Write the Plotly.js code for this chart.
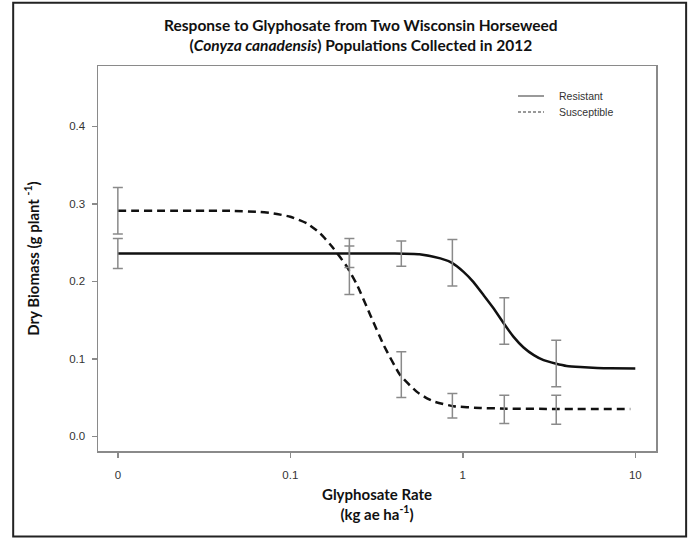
<!DOCTYPE html>
<html>
<head>
<meta charset="utf-8">
<script src="https://cdn.plot.ly/plotly-3.0.1.min.js"></script>
<style>html,body{margin:0;padding:0;background:#fff;}#chart{width:694px;height:539px;}</style>
</head>
<body>
<div id="chart"></div>
<script>
// Glyphosate rates (kg ae/ha); 0.01 stands for the untreated "0" position on the log axis
const doses = [0.01, 0.22, 0.44, 0.87, 1.74, 3.48];

// Observed means and standard errors
const resistantMean = [0.236, 0.2367, 0.2358, 0.224, 0.1488, 0.0939];
const resistantSE   = [0.0194, 0.0187, 0.0162, 0.030, 0.0299, 0.030];
const susceptibleMean = [0.291, 0.2143, 0.0795, 0.0394, 0.0347, 0.0343];
const susceptibleSE   = [0.030, 0.0312, 0.0295, 0.0157, 0.0183, 0.0188];

// Fitted dose-response curves
const resistantCurveX = [0.01, 0.1, 0.4, 0.56, 0.741, 0.865, 1.01, 1.15, 1.32, 1.51, 1.73, 1.97, 2.25, 2.58, 2.94, 3.44, 4.0, 4.8, 6.0, 7.16, 10];
const resistantCurveY = [0.236, 0.236, 0.236, 0.235, 0.2296, 0.2239, 0.2123, 0.1994, 0.1822, 0.165, 0.1456, 0.1283, 0.1146, 0.1047, 0.0982, 0.094, 0.0908, 0.0893, 0.0882, 0.0877, 0.0875];
const susceptibleCurveX = [0.01, 0.045, 0.067, 0.08, 0.1, 0.125, 0.149, 0.178, 0.213, 0.244, 0.291, 0.348, 0.434, 0.542, 0.62, 0.677, 0.885, 1.26, 1.8, 3.52, 9.35];
const susceptibleCurveY = [0.291, 0.291, 0.2895, 0.2877, 0.2834, 0.2748, 0.2619, 0.2425, 0.2188, 0.1951, 0.1563, 0.1176, 0.0788, 0.0573, 0.049, 0.045, 0.0388, 0.0366, 0.0357, 0.0353, 0.0353];

const xTickVals = [0.01, 0.1, 1, 10];
const xTickText = ['0', '0.1', '1', '10'];
const yTickVals = [0, 0.1, 0.2, 0.3, 0.4];
const legendNames = ['Resistant', 'Susceptible'];

const errColor = '#8a8a8a';
const traces = [
  {x: resistantCurveX, y: resistantCurveY, mode: 'lines', name: legendNames[0], showlegend: false,
   line: {color: '#111', width: 2.5, shape: 'spline', smoothing: 0.5}},
  {x: susceptibleCurveX, y: susceptibleCurveY, mode: 'lines', name: legendNames[1], showlegend: false,
   line: {color: '#111', width: 2.5, dash: '8px,5px', shape: 'spline', smoothing: 0.5}},
  {x: doses, y: resistantMean, mode: 'markers', showlegend: false, hoverinfo: 'skip',
   marker: {size: 1, color: 'rgba(0,0,0,0)'},
   error_y: {type: 'data', array: resistantSE, visible: true, color: errColor, thickness: 1.5, width: 5}},
  {x: doses, y: susceptibleMean, mode: 'markers', showlegend: false, hoverinfo: 'skip',
   marker: {size: 1, color: 'rgba(0,0,0,0)'},
   error_y: {type: 'data', array: susceptibleSE, visible: true, color: errColor, thickness: 1.5, width: 5}}
];

const tickFont = {family: 'Liberation Sans, Arial, sans-serif', size: 11.5, color: '#333'};
const legendFont = {family: 'Liberation Sans, Arial, sans-serif', size: 10.5, color: '#333'};
const layout = {
  width: 694, height: 539,
  margin: {l: 98, r: 38, t: 66, b: 88},
  paper_bgcolor: '#fff', plot_bgcolor: '#fff',
  showlegend: false,
  title: {
    text: 'Response to Glyphosate from Two Wisconsin Horseweed<br>(<i>Conyza canadensis</i>) Populations Collected in 2012',
    font: {family: 'Lato, sans-serif', size: 15.5, color: '#111', weight: 'bold'},
    xref: 'container', x: 0.52, xanchor: 'center',
    yref: 'container', y: 0.942, yanchor: 'top'
  },
  xaxis: {
    type: 'log', range: [-2.115, 1.12],
    tickvals: xTickVals, ticktext: xTickText,
    showgrid: false, zeroline: false,
    showline: true, mirror: true, linecolor: '#8a8a8a', linewidth: 1.5,
    ticks: 'outside', ticklen: 5, tickcolor: '#8a8a8a', tickwidth: 1.5,
    ticklabelstandoff: 8,
    tickfont: tickFont,
    title: {text: '<b>Glyphosate Rate</b><br><b>(kg ae ha<sup>-1</sup>)</b>',
            font: {family: 'Lato, sans-serif', size: 15, color: '#111'}, standoff: 9}
  },
  yaxis: {
    range: [-0.019, 0.478],
    tickvals: yTickVals, tickformat: '.1f',
    showgrid: false, zeroline: false,
    showline: true, mirror: true, linecolor: '#8a8a8a', linewidth: 1.5,
    ticks: 'outside', ticklen: 5, tickcolor: '#8a8a8a', tickwidth: 1.5,
    ticklabelstandoff: 4,
    tickfont: tickFont,
    title: {text: '<b>Dry Biomass (g plant <sup>-1</sup>)</b>',
            font: {family: 'Lato, sans-serif', size: 15, color: '#111'}, standoff: 26}
  },
  annotations: [
    {text: legendNames[0], xref: 'paper', yref: 'paper', x: 0.8226, y: 0.9221,
     xanchor: 'left', yanchor: 'middle', showarrow: false, font: legendFont},
    {text: legendNames[1], xref: 'paper', yref: 'paper', x: 0.8226, y: 0.8805,
     xanchor: 'left', yanchor: 'middle', showarrow: false, font: legendFont}
  ],
  shapes: [
    {type: 'rect', xref: 'paper', yref: 'paper',
     x0: -0.152, x1: 1.054, y0: -0.222, y1: 1.164,
     line: {color: '#222', width: 2}, layer: 'above'},
    {type: 'line', xref: 'paper', yref: 'paper', x0: 0.7527, x1: 0.7993, y0: 0.9221, y1: 0.9221,
     line: {color: '#999', width: 2}},
    {type: 'line', xref: 'paper', yref: 'paper', x0: 0.7527, x1: 0.7993, y0: 0.8805, y1: 0.8805,
     line: {color: '#999', width: 2, dash: '3px,2px'}}
  ]
};

Plotly.newPlot('chart', traces, layout, {displayModeBar: false, staticPlot: true});
</script>
</body>
</html>
